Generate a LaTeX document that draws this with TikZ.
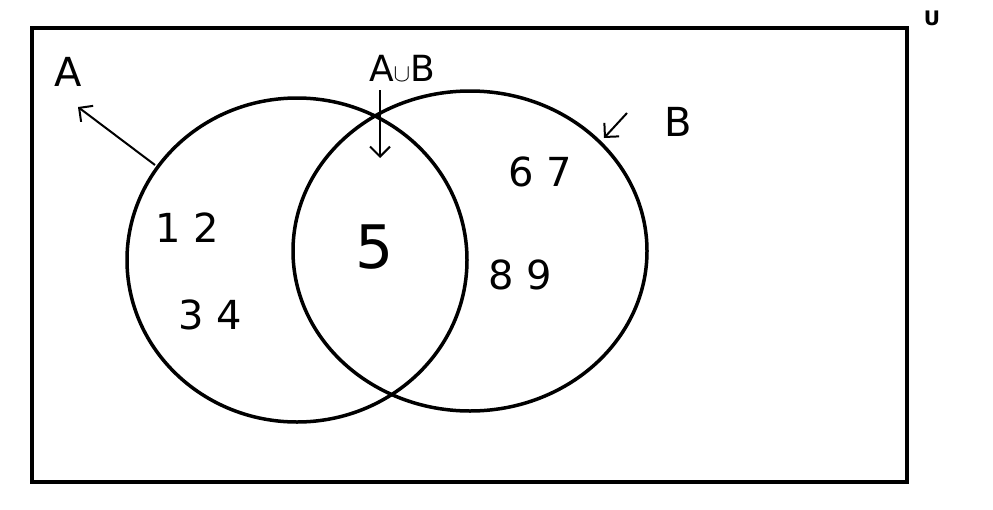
\documentclass[tikz,border=0pt]{standalone}
\usetikzlibrary{shapes.geometric,arrows.meta}
\usepackage{fontspec}
\setmainfont{DejaVu Sans}
\begin{document}
\begin{tikzpicture}[x=1pt,y=-1pt,
  ln/.style={line width=3.5pt,black},
  lbl/.style={font=\fontsize{40}{40}\selectfont},
  arr/.style={line width=2pt,-{Straight Barb[length=10pt,width=20pt]}}]
\useasboundingbox (0,0) rectangle (993,509);
\draw[ln] (32,28) rectangle (907,482);
\node[font=\bfseries\fontsize{20}{20}\selectfont] (U) at (932,18) {U};
\node[draw,ln,ellipse,minimum width=340pt,minimum height=324pt,inner sep=0pt] (A) at (297,260) {};
\node[draw,ln,ellipse,minimum width=354pt,minimum height=320pt,inner sep=0pt] (B) at (470,251) {};
\node[lbl] (la) at (68,72) {A};
\coordinate (a1) at (155,165);
\coordinate (a2) at (78,107);
\draw[arr] (a1) -- (a2);
\node[lbl,font=\fontsize{36}{36}\selectfont] (lab) at (402,68) {A$\cup$B};
\coordinate (b1) at (380,90);
\coordinate (b2) at (380,158);
\draw[arr] (b1) -- (b2);
\node[lbl] (lb) at (678,122) {B};
\coordinate (c1) at (627,113);
\coordinate (c2) at (604,138);
\draw[arr] (c1) -- (c2);
\node[lbl] (n12) at (187,228) {1 2};
\node[lbl] (n34) at (210,315) {3 4};
\node[lbl,font=\fontsize{60}{60}\selectfont] (n5) at (375,247) {5};
\node[lbl] (n67) at (540,172) {6 7};
\node[lbl] (n89) at (520,275) {8 9};
\end{tikzpicture}
\end{document}
